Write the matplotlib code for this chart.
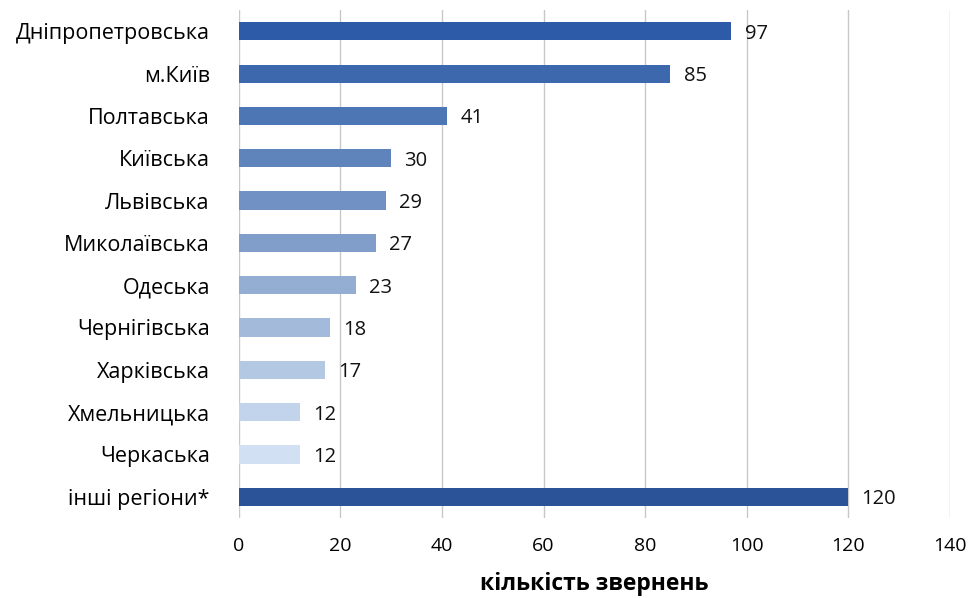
import numpy as np
import matplotlib.pyplot as plt

regions = ['Дніпропетровська', 'м.Київ', 'Полтавська', 'Київська', 'Львівська',
           'Миколаївська', 'Одеська', 'Чернігівська', 'Харківська', 'Хмельницька',
           'Черкаська', 'інші регіони*']
counts = [97, 85, 41, 30, 29, 27, 23, 18, 17, 12, 12, 120]
bar_colors = ['#2E5BA8', '#3D68AE', '#4D76B5', '#5F84BC', '#7191C4', '#819ECB',
              '#93ADD3', '#A3BADA', '#B3C8E2', '#C2D4EB', '#D1E0F2', '#2B5397']

plt.rcParams['font.family'] = ['Open Sans', 'DejaVu Sans']

fig = plt.figure(figsize=(9.69, 5.98), dpi=100)
ax = fig.add_axes([0.2466, 0.134, 0.7334, 0.849])

y = np.arange(len(regions))
ax.barh(y, counts, height=0.43, color=bar_colors, zorder=3)
for yi, v in zip(y, counts):
    ax.text(v + 2.6, yi + 0.06, str(v), va='center', ha='left', fontsize=14.5, color='#111111')

ax.set_xlim(0, 140)
ax.set_ylim(len(regions) - 0.5, -0.5)
ax.set_xticks(np.arange(0, 141, 20))
ax.set_yticks(y)
ax.set_yticklabels(regions, fontsize=15.5)
ax.tick_params(axis='x', labelsize=14, length=0, pad=14)
ax.tick_params(axis='y', length=0, pad=21)
ax.grid(axis='x', color='#C8C8C8', linewidth=1, zorder=0)
for s in ax.spines.values():
    s.set_visible(False)
ax.set_xlabel('кількість звернень', fontsize=16.5, fontweight='bold', labelpad=12)

fig.savefig('out.png', dpi=100)
